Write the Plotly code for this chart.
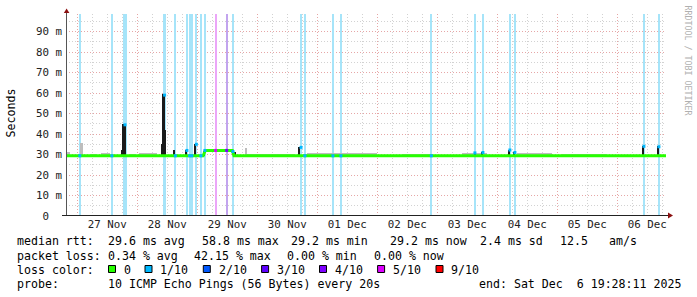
import plotly.graph_objects as go
import pandas as pd

# ---------------- data ----------------
T_START = "2025-11-26 19:28:11"
T_END = "2025-12-06 19:28:11"
Y_MAX = 98.6  # ms, top of value axis

y_tick_vals = [0, 10, 20, 30, 40, 50, 60, 70, 80, 90]
y_tick_text = ["0\u00a0\u00a0", "10 m", "20 m", "30 m", "40 m", "50 m", "60 m", "70 m", "80 m", "90 m"]

# median rtt (ms)
median_t = ["2025-11-26 19:28", "2025-11-29 02:20", "2025-11-29 03:10",
            "2025-11-29 14:00", "2025-11-29 14:40", "2025-12-06 19:28"]
median_v = [29.4, 29.4, 32.0, 32.0, 29.4, 29.4]

# packet loss events: centre time, duration (min), loss level, median rtt at that time
loss_t = ["2025-11-27 01:00", "2025-11-27 13:50", "2025-11-27 19:04", "2025-11-28 10:55",
          "2025-11-28 15:12", "2025-11-28 19:50", "2025-11-28 20:55", "2025-11-28 21:50",
          "2025-11-28 23:36", "2025-11-29 01:26", "2025-11-29 03:02", "2025-11-29 07:19",
          "2025-11-29 11:43", "2025-11-29 14:14", "2025-11-30 17:29", "2025-11-30 19:02",
          "2025-12-01 06:14", "2025-12-01 09:26", "2025-12-02 21:36", "2025-12-03 15:02",
          "2025-12-03 18:14", "2025-12-04 05:02", "2025-12-04 07:02", "2025-12-06 10:38",
          "2025-12-06 16:38"]
loss_min = [24, 24, 115, 82, 24, 24, 24, 24, 24, 24, 24, 48, 48, 24, 48, 24, 24, 24, 24, 24,
            24, 24, 24, 24, 24]
loss_level = ["1/10", "1/10", "1/10", "1/10", "1/10", "1/10", "1/10", "1/10", "1/10", "1/10",
              "1/10", "5/10", "4/10", "1/10", "1/10", "1/10", "1/10", "1/10", "1/10", "1/10",
              "1/10", "1/10", "1/10", "1/10", "1/10"]
loss_rtt = [29.4, 29.4, 44.5, 59.0, 29.4, 32.0, 29.4, 29.4, 35.0, 29.4, 32.0, 32.0, 32.0, 31.5,
            33.5, 29.4, 29.4, 29.4, 29.4, 30.8, 31.0, 32.2, 31.0, 34.0, 33.8]

# dark smoke spikes: centre time, top (ms), duration (min)
spike_t = ["2025-11-27 17:41", "2025-11-27 18:14", "2025-11-27 19:10", "2025-11-28 09:58",
           "2025-11-28 10:36", "2025-11-28 11:10", "2025-11-28 14:38", "2025-11-28 19:36",
           "2025-11-28 23:17", "2025-11-29 02:31", "2025-11-29 14:55", "2025-11-30 16:38",
           "2025-12-03 14:55", "2025-12-03 17:50", "2025-12-04 04:38", "2025-12-04 06:48",
           "2025-12-06 10:24", "2025-12-06 16:24"]
spike_v = [32.0, 45.1, 44.3, 35.3, 59.5, 42.0, 32.0, 32.0, 35.3, 31.5, 31.0, 33.7,
           30.8, 31.0, 32.4, 31.1, 34.2, 34.0]
spike_min = [24, 40, 40, 24, 40, 24, 24, 24, 40, 24, 24, 40, 24, 24, 30, 24, 30, 30]

# light smoke: start, end, top (ms)
smoke_t0 = ["2025-11-26 19:28", "2025-11-27 01:25", "2025-11-27 05:00", "2025-11-27 09:30",
            "2025-11-27 21:00", "2025-11-28 00:30", "2025-11-29 19:20", "2025-11-29 20:00",
            "2025-11-30 20:00", "2025-12-01 10:00", "2025-12-02 10:00", "2025-12-03 10:00",
            "2025-12-04 08:00", "2025-12-05 02:00"]
smoke_t1 = ["2025-11-26 21:00", "2025-11-27 02:10", "2025-11-27 08:00", "2025-11-27 13:00",
            "2025-11-27 23:30", "2025-11-28 08:00", "2025-11-29 19:50", "2025-11-30 15:00",
            "2025-12-01 10:00", "2025-12-02 00:00", "2025-12-02 22:00", "2025-12-03 20:00",
            "2025-12-04 22:00", "2025-12-05 20:00"]
smoke_v = [31.0, 35.6, 30.5, 30.8, 30.5, 30.6, 33.0, 30.4, 30.8, 30.6, 30.5, 30.6, 30.8, 30.4]

# legend texts
rtt_label = "median rtt:"
rtt_stats = ["29.6 ms avg", "58.8 ms max", "29.2 ms min", "29.2 ms now", "2.4 ms sd", "12.5", "am/s"]
loss_label = "packet loss:"
loss_stats = ["0.34 % avg", "42.15 % max", "0.00 % min", "0.00 % now"]
color_label = "loss color:"
color_levels = ["0", "1/10", "2/10", "3/10", "4/10", "5/10", "9/10"]
probe_label = "probe:"
probe_text = "10 ICMP Echo Pings (56 Bytes) every 20s"
end_text = "end: Sat Dec  6 19:28:11 2025"

# ---------------- styling ----------------
LOSS_COLORS = {"0": "#26ff00", "1/10": "#00b8ff", "2/10": "#0059ff", "3/10": "#5e00ff",
               "4/10": "#7e00ff", "5/10": "#dd00ff", "9/10": "#ff0000"}
LOSS_BG = {"1/10": "#a6e4f9", "4/10": "#c2a4ee", "5/10": "#eba6f8"}
MONO = "DejaVu Sans Mono"
W, H = 697, 297
L, R = 66, 666
TOP, BOT = 14, 216


def px(x):
    return (x - L) / (R - L)


def py(y):
    return (BOT - y) / (BOT - TOP)


fig = go.Figure()

# loss background bars
lt = pd.to_datetime(loss_t)
for lvl in ["1/10", "4/10", "5/10"]:
    idx = [i for i, l in enumerate(loss_level) if l == lvl]
    fig.add_trace(go.Bar(
        x=[lt[i] for i in idx], y=[Y_MAX] * len(idx), base=0,
        width=[loss_min[i] * 60000 for i in idx],
        marker=dict(color=LOSS_BG[lvl], line=dict(width=0)),
        hoverinfo="skip", showlegend=False))

# light smoke
s0 = pd.to_datetime(smoke_t0)
s1 = pd.to_datetime(smoke_t1)
fig.add_trace(go.Bar(
    x=[a + (b - a) / 2 for a, b in zip(s0, s1)],
    y=[v - 29.4 for v in smoke_v], base=29.4,
    width=[(b - a).total_seconds() * 1000 for a, b in zip(s0, s1)],
    marker=dict(color="#bdbdbd", line=dict(width=0)), hoverinfo="skip", showlegend=False))

# dark spikes
fig.add_trace(go.Bar(
    x=pd.to_datetime(spike_t), y=[v - 29.4 for v in spike_v], base=29.4,
    width=[m * 60000 for m in spike_min],
    marker=dict(color="#1a1a1a", line=dict(width=0)), hoverinfo="skip", showlegend=False))

# median line
fig.add_trace(go.Scatter(
    x=pd.to_datetime(median_t), y=median_v, mode="lines",
    line=dict(color="#26ff00", width=3), hoverinfo="skip", showlegend=False))

# loss-coloured median points
fig.add_trace(go.Scatter(
    x=lt, y=loss_rtt, mode="markers",
    marker=dict(symbol="square", size=3, color=[LOSS_COLORS[l] for l in loss_level],
                line=dict(width=0)),
    hoverinfo="skip", showlegend=False))

fig.update_layout(
    width=W, height=H, margin=dict(l=L, r=W - R, t=TOP, b=H - BOT, pad=0),
    paper_bgcolor="white", plot_bgcolor="white", barmode="overlay", bargap=0,
    font=dict(family=MONO, color="#000000"),
    xaxis=dict(
        type="date", range=[T_START, T_END], tick0="2025-11-27", dtick=86400000,
        ticklabelmode="period", tickformat="%d %b", showline=False, zeroline=False,
        showgrid=True, gridcolor="#e6a6a6", griddash="1px,2px", gridwidth=1,
        ticks="", tickfont=dict(family=MONO, size=10.8, color="#222222"),
        minor=dict(dtick=21600000, showgrid=True, gridcolor="#d2d2d2", griddash="1px,2px",
                   gridwidth=1),
    ),
    yaxis=dict(
        range=[0, Y_MAX], tickvals=y_tick_vals, ticktext=y_tick_text, showline=False,
        zeroline=False, showgrid=True, gridcolor="#e6a6a6", griddash="1px,2px", gridwidth=1,
        ticks="", ticklabelstandoff=3, tickfont=dict(family=MONO, size=10.8, color="#222222"),
        minor=dict(dtick=5, showgrid=True, gridcolor="#d2d2d2", griddash="1px,2px", gridwidth=1),
    ),
)

shapes = []
# axis lines
shapes.append(dict(type="line", xref="paper", yref="paper", x0=px(66.5), x1=px(66.5),
                   y0=py(216), y1=py(12), line=dict(color="#555555", width=1)))
shapes.append(dict(type="line", xref="paper", yref="paper", x0=px(62), x1=px(669),
                   y0=py(215.5), y1=py(215.5), line=dict(color="#222222", width=1)))
# arrows
shapes.append(dict(type="path", xref="paper", yref="paper",
                   path=f"M {px(63.8)} {py(13)} L {px(69.4)} {py(13)} L {px(66.6)} {py(8.5)} Z",
                   fillcolor="#8b1010", line=dict(width=0)))
shapes.append(dict(type="path", xref="paper", yref="paper",
                   path=f"M {px(668)} {py(212.5)} L {px(668)} {py(218.5)} L {px(673)} {py(215.5)} Z",
                   fillcolor="#8b1010", line=dict(width=0)))

annotations = []
FS = 11.6


def text(x, y, s, size=FS, color="#000000", **kw):
    annotations.append(dict(xref="paper", yref="paper", x=px(x), y=py(y), text=s,
                            showarrow=False, xanchor="left", yanchor="middle", borderpad=0,
                            font=dict(family=MONO, size=size, color=color), **kw))


# legend rows
text(16, 241, rtt_label)
for s, x in zip(rtt_stats, [107, 201, 290, 389, 479, 559, 608]):
    text(x, 241, s)
text(16, 255.7, loss_label)
for s, x in zip(loss_stats, [107, 192.7, 286, 372.7]):
    text(x, 255.7, s)
text(16, 269.5, color_label)
for lvl, xs in zip(color_levels, [108.5, 145, 203.3, 261.6, 319.5, 377.6, 436]):
    shapes.append(dict(type="rect", xref="paper", yref="paper", x0=px(xs), x1=px(xs + 7),
                       y0=py(272.5), y1=py(265.5), fillcolor=LOSS_COLORS[lvl],
                       line=dict(color="#000000", width=1)))
    text(xs + 14.3, 269.5, lvl)
text(16, 283.5, probe_label)
text(107, 283.5, probe_text)
text(478.3, 283.5, end_text.replace("  ", "\u00a0\u00a0"))

# y title
annotations.append(dict(xref="paper", yref="paper", x=px(10.5), y=py(113), text="Seconds",
                        showarrow=False, textangle=-90, xanchor="center", yanchor="middle",
                        font=dict(family=MONO, size=FS, color="#000000")))
# watermark
annotations.append(dict(xref="paper", yref="paper", x=px(687.5), y=py(60),
                        text="RRDTOOL / TOBI OETIKER", showarrow=False, textangle=90,
                        xanchor="center", yanchor="middle",
                        font=dict(family=MONO, size=8.3, color="#b0b0b0")))

fig.update_layout(shapes=shapes, annotations=annotations)
fig.write_html("out.html")
